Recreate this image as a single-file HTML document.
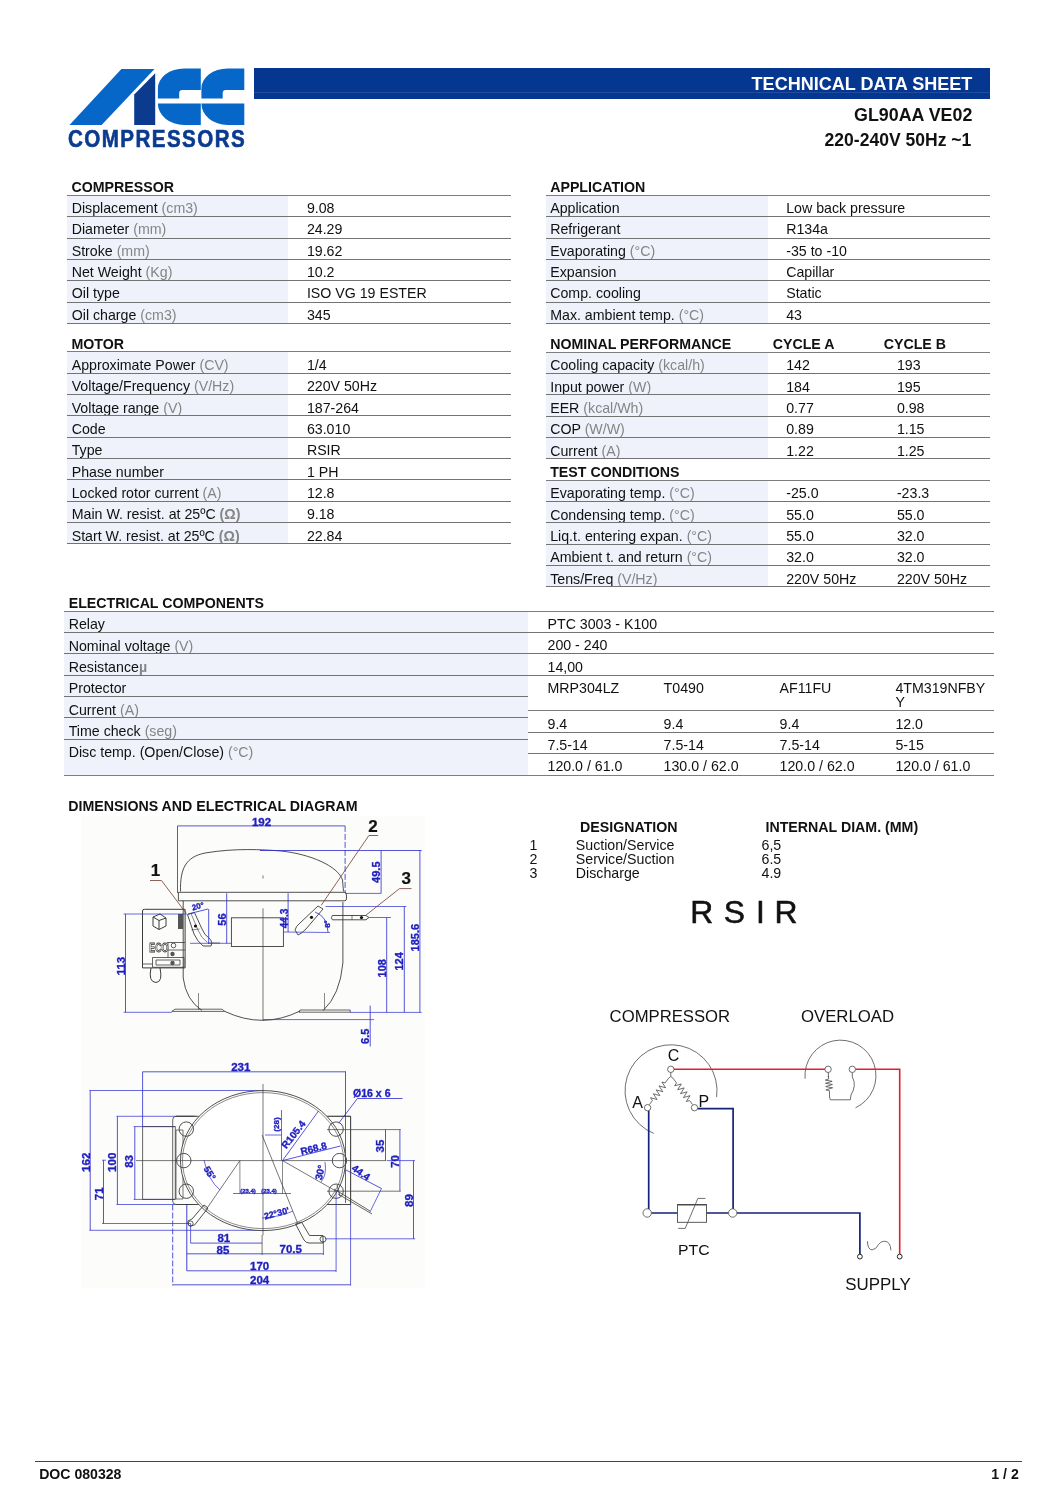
<!DOCTYPE html>
<html><head><meta charset="utf-8">
<style>
html,body{margin:0;padding:0;background:#fff;}
body{will-change:transform;width:1058px;height:1497px;position:relative;overflow:hidden;font-family:"Liberation Sans",sans-serif;color:#111;}
.r,.b{position:absolute;white-space:nowrap;line-height:1;}
.b{font-weight:bold;}
.g{color:#858585;}
.bx{position:absolute;}
svg{position:absolute;}
</style></head><body>
<!--LOGO-->
<svg style="left:0;top:0" width="260" height="160" viewBox="0 0 260 160"><path d="M121.4,69.1 L154.5,69.1 L101.6,124.9 L69.5,124.9 Z" fill="#0767c9"/><path d="M155.2,73.3 L155.2,125 L134.2,125 L134.2,94.6 Z" fill="#0a3b8e"/><path d="M184.0,68.5 L200.8,68.5 L200.8,90.1 L182.2,90.1 Q179.2,90.1 179.2,93.1 L179.2,98.6 L157.9,98.6 L157.9,88.5 A26.1,20 0 0 1 184.0,68.5 Z M157.9,103.4 L200.8,103.4 L200.8,125 L184.0,125 A26.1,21.6 0 0 1 157.9,103.4 Z" fill="#0767c9"/><path d="M227.5,68.5 L244.3,68.5 L244.3,90.1 L225.7,90.1 Q222.7,90.1 222.7,93.1 L222.7,98.6 L201.4,98.6 L201.4,88.5 A26.1,20 0 0 1 227.5,68.5 Z M201.4,103.4 L244.3,103.4 L244.3,125 L227.5,125 A26.1,21.6 0 0 1 201.4,103.4 Z" fill="#0767c9"/></svg>
<div class="b" style="left:68.0px;top:128.09px;font-size:23.4px;color:#0a3b8e;-webkit-text-stroke:0.6px #0a3b8e;letter-spacing:1.62px;transform:scaleX(0.88);transform-origin:0 0">COMPRESSORS</div>
<div class="bx" style="left:253.6px;top:67.80px;width:736.4px;height:30.90px;background:#063790;"></div>
<div class="bx" style="left:253.6px;top:92.00px;width:736.4px;height:1.00px;background:#1f4c9e;"></div>
<div class="b" style="left:751.6px;top:74.72px;font-size:18.05px;color:#fff">TECHNICAL DATA SHEET</div>
<div class="b" style="left:854.0px;top:106.89px;font-size:17.85px;">GL90AA VE02</div>
<div class="b" style="left:824.6px;top:132.34px;font-size:17.55px;">220-240V 50Hz ~1</div>
<div class="b" style="left:71.5px;top:179.78px;font-size:14.2px;">COMPRESSOR</div>
<div class="bx" style="left:67.4px;top:195.50px;width:220.9px;height:127.98px;background:#eff2fb;"></div>
<div class="bx" style="left:67.4px;top:195.00px;width:443.6px;height:1.00px;background:#7d7d7d;"></div>
<div class="r" style="left:71.7px;top:200.88px;font-size:14.2px;">Displacement <span class="g">(cm3)</span></div>
<div class="r" style="left:306.9px;top:200.88px;font-size:14.2px;">9.08</div>
<div class="bx" style="left:67.4px;top:216.00px;width:443.6px;height:1.00px;background:#737373;"></div>
<div class="r" style="left:71.7px;top:222.21px;font-size:14.2px;">Diameter <span class="g">(mm)</span></div>
<div class="r" style="left:306.9px;top:222.21px;font-size:14.2px;">24.29</div>
<div class="bx" style="left:67.4px;top:238.00px;width:443.6px;height:1.00px;background:#737373;"></div>
<div class="r" style="left:71.7px;top:243.54px;font-size:14.2px;">Stroke <span class="g">(mm)</span></div>
<div class="r" style="left:306.9px;top:243.54px;font-size:14.2px;">19.62</div>
<div class="bx" style="left:67.4px;top:259.00px;width:443.6px;height:1.00px;background:#737373;"></div>
<div class="r" style="left:71.7px;top:264.87px;font-size:14.2px;">Net Weight <span class="g">(Kg)</span></div>
<div class="r" style="left:306.9px;top:264.87px;font-size:14.2px;">10.2</div>
<div class="bx" style="left:67.4px;top:280.00px;width:443.6px;height:1.00px;background:#737373;"></div>
<div class="r" style="left:71.7px;top:286.20px;font-size:14.2px;">Oil type</div>
<div class="r" style="left:306.9px;top:286.20px;font-size:14.2px;">ISO VG 19 ESTER</div>
<div class="bx" style="left:67.4px;top:302.00px;width:443.6px;height:1.00px;background:#737373;"></div>
<div class="r" style="left:71.7px;top:307.53px;font-size:14.2px;">Oil charge <span class="g">(cm3)</span></div>
<div class="r" style="left:306.9px;top:307.53px;font-size:14.2px;">345</div>
<div class="bx" style="left:67.4px;top:323.00px;width:443.6px;height:1.00px;background:#737373;"></div>
<div class="b" style="left:71.5px;top:336.68px;font-size:14.2px;">MOTOR</div>
<div class="bx" style="left:67.4px;top:351.80px;width:220.9px;height:191.97px;background:#eff2fb;"></div>
<div class="bx" style="left:67.4px;top:351.00px;width:443.6px;height:1.00px;background:#7d7d7d;"></div>
<div class="r" style="left:71.7px;top:357.98px;font-size:14.2px;">Approximate Power <span class="g">(CV)</span></div>
<div class="r" style="left:306.9px;top:357.98px;font-size:14.2px;">1/4</div>
<div class="bx" style="left:67.4px;top:373.00px;width:443.6px;height:1.00px;background:#737373;"></div>
<div class="r" style="left:71.7px;top:379.31px;font-size:14.2px;">Voltage/Frequency <span class="g">(V/Hz)</span></div>
<div class="r" style="left:306.9px;top:379.31px;font-size:14.2px;">220V 50Hz</div>
<div class="bx" style="left:67.4px;top:394.00px;width:443.6px;height:1.00px;background:#737373;"></div>
<div class="r" style="left:71.7px;top:400.64px;font-size:14.2px;">Voltage range <span class="g">(V)</span></div>
<div class="r" style="left:306.9px;top:400.64px;font-size:14.2px;">187-264</div>
<div class="bx" style="left:67.4px;top:415.00px;width:443.6px;height:1.00px;background:#737373;"></div>
<div class="r" style="left:71.7px;top:421.97px;font-size:14.2px;">Code</div>
<div class="r" style="left:306.9px;top:421.97px;font-size:14.2px;">63.010</div>
<div class="bx" style="left:67.4px;top:437.00px;width:443.6px;height:1.00px;background:#737373;"></div>
<div class="r" style="left:71.7px;top:443.30px;font-size:14.2px;">Type</div>
<div class="r" style="left:306.9px;top:443.30px;font-size:14.2px;">RSIR</div>
<div class="bx" style="left:67.4px;top:458.00px;width:443.6px;height:1.00px;background:#737373;"></div>
<div class="r" style="left:71.7px;top:464.63px;font-size:14.2px;">Phase number</div>
<div class="r" style="left:306.9px;top:464.63px;font-size:14.2px;">1 PH</div>
<div class="bx" style="left:67.4px;top:479.00px;width:443.6px;height:1.00px;background:#737373;"></div>
<div class="r" style="left:71.7px;top:485.96px;font-size:14.2px;">Locked rotor current <span class="g">(A)</span></div>
<div class="r" style="left:306.9px;top:485.96px;font-size:14.2px;">12.8</div>
<div class="bx" style="left:67.4px;top:501.00px;width:443.6px;height:1.00px;background:#737373;"></div>
<div class="r" style="left:71.7px;top:507.29px;font-size:14.2px;">Main W. resist. at 25ºC <span class="g"><b>(&Omega;)</b></span></div>
<div class="r" style="left:306.9px;top:507.29px;font-size:14.2px;">9.18</div>
<div class="bx" style="left:67.4px;top:522.00px;width:443.6px;height:1.00px;background:#737373;"></div>
<div class="r" style="left:71.7px;top:528.62px;font-size:14.2px;">Start W. resist. at 25ºC <span class="g"><b>(&Omega;)</b></span></div>
<div class="r" style="left:306.9px;top:528.62px;font-size:14.2px;">22.84</div>
<div class="bx" style="left:67.4px;top:543.00px;width:443.6px;height:1.00px;background:#737373;"></div>
<div class="b" style="left:550.2px;top:179.78px;font-size:14.2px;">APPLICATION</div>
<div class="bx" style="left:545.8px;top:195.50px;width:222.1px;height:127.98px;background:#eff2fb;"></div>
<div class="bx" style="left:545.8px;top:195.00px;width:444.2px;height:1.00px;background:#7d7d7d;"></div>
<div class="r" style="left:550.2px;top:200.88px;font-size:14.2px;">Application</div>
<div class="r" style="left:786.2px;top:200.88px;font-size:14.2px;">Low back pressure</div>
<div class="bx" style="left:545.8px;top:216.00px;width:444.2px;height:1.00px;background:#737373;"></div>
<div class="r" style="left:550.2px;top:222.21px;font-size:14.2px;">Refrigerant</div>
<div class="r" style="left:786.2px;top:222.21px;font-size:14.2px;">R134a</div>
<div class="bx" style="left:545.8px;top:238.00px;width:444.2px;height:1.00px;background:#737373;"></div>
<div class="r" style="left:550.2px;top:243.54px;font-size:14.2px;">Evaporating <span class="g">(°C)</span></div>
<div class="r" style="left:786.2px;top:243.54px;font-size:14.2px;">-35 to -10</div>
<div class="bx" style="left:545.8px;top:259.00px;width:444.2px;height:1.00px;background:#737373;"></div>
<div class="r" style="left:550.2px;top:264.87px;font-size:14.2px;">Expansion</div>
<div class="r" style="left:786.2px;top:264.87px;font-size:14.2px;">Capillar</div>
<div class="bx" style="left:545.8px;top:280.00px;width:444.2px;height:1.00px;background:#737373;"></div>
<div class="r" style="left:550.2px;top:286.20px;font-size:14.2px;">Comp. cooling</div>
<div class="r" style="left:786.2px;top:286.20px;font-size:14.2px;">Static</div>
<div class="bx" style="left:545.8px;top:302.00px;width:444.2px;height:1.00px;background:#737373;"></div>
<div class="r" style="left:550.2px;top:307.53px;font-size:14.2px;">Max. ambient temp. <span class="g">(°C)</span></div>
<div class="r" style="left:786.2px;top:307.53px;font-size:14.2px;">43</div>
<div class="bx" style="left:545.8px;top:323.00px;width:444.2px;height:1.00px;background:#737373;"></div>
<div class="b" style="left:550.2px;top:337.08px;font-size:14.2px;">NOMINAL PERFORMANCE</div>
<div class="b" style="left:772.7px;top:337.08px;font-size:14.2px;">CYCLE A</div>
<div class="b" style="left:883.7px;top:337.08px;font-size:14.2px;">CYCLE B</div>
<div class="bx" style="left:545.8px;top:352.00px;width:444.2px;height:1.00px;background:#7d7d7d;"></div>
<div class="bx" style="left:545.8px;top:352.10px;width:222.1px;height:106.65px;background:#eff2fb;"></div>
<div class="bx" style="left:545.8px;top:480.08px;width:222.1px;height:106.65px;background:#eff2fb;"></div>
<div class="bx" style="left:545.8px;top:352.00px;width:444.2px;height:1.00px;background:#7d7d7d;"></div>
<div class="r" style="left:550.2px;top:358.28px;font-size:14.2px;">Cooling capacity <span class="g">(kcal/h)</span></div>
<div class="r" style="left:786.2px;top:358.28px;font-size:14.2px;">142</div>
<div class="r" style="left:896.9px;top:358.28px;font-size:14.2px;">193</div>
<div class="bx" style="left:545.8px;top:373.00px;width:444.2px;height:1.00px;background:#737373;"></div>
<div class="r" style="left:550.2px;top:379.61px;font-size:14.2px;">Input power <span class="g">(W)</span></div>
<div class="r" style="left:786.2px;top:379.61px;font-size:14.2px;">184</div>
<div class="r" style="left:896.9px;top:379.61px;font-size:14.2px;">195</div>
<div class="bx" style="left:545.8px;top:394.00px;width:444.2px;height:1.00px;background:#737373;"></div>
<div class="r" style="left:550.2px;top:400.94px;font-size:14.2px;">EER <span class="g">(kcal/Wh)</span></div>
<div class="r" style="left:786.2px;top:400.94px;font-size:14.2px;">0.77</div>
<div class="r" style="left:896.9px;top:400.94px;font-size:14.2px;">0.98</div>
<div class="bx" style="left:545.8px;top:416.00px;width:444.2px;height:1.00px;background:#737373;"></div>
<div class="r" style="left:550.2px;top:422.27px;font-size:14.2px;">COP <span class="g">(W/W)</span></div>
<div class="r" style="left:786.2px;top:422.27px;font-size:14.2px;">0.89</div>
<div class="r" style="left:896.9px;top:422.27px;font-size:14.2px;">1.15</div>
<div class="bx" style="left:545.8px;top:437.00px;width:444.2px;height:1.00px;background:#737373;"></div>
<div class="r" style="left:550.2px;top:443.60px;font-size:14.2px;">Current <span class="g">(A)</span></div>
<div class="r" style="left:786.2px;top:443.60px;font-size:14.2px;">1.22</div>
<div class="r" style="left:896.9px;top:443.60px;font-size:14.2px;">1.25</div>
<div class="bx" style="left:545.8px;top:458.00px;width:444.2px;height:1.00px;background:#737373;"></div>
<div class="b" style="left:550.2px;top:464.93px;font-size:14.2px;">TEST CONDITIONS</div>
<div class="bx" style="left:545.8px;top:480.00px;width:444.2px;height:1.00px;background:#7d7d7d;"></div>
<div class="r" style="left:550.2px;top:486.26px;font-size:14.2px;">Evaporating temp. <span class="g">(°C)</span></div>
<div class="r" style="left:786.2px;top:486.26px;font-size:14.2px;">-25.0</div>
<div class="r" style="left:896.9px;top:486.26px;font-size:14.2px;">-23.3</div>
<div class="bx" style="left:545.8px;top:501.00px;width:444.2px;height:1.00px;background:#737373;"></div>
<div class="r" style="left:550.2px;top:507.59px;font-size:14.2px;">Condensing temp. <span class="g">(°C)</span></div>
<div class="r" style="left:786.2px;top:507.59px;font-size:14.2px;">55.0</div>
<div class="r" style="left:896.9px;top:507.59px;font-size:14.2px;">55.0</div>
<div class="bx" style="left:545.8px;top:522.00px;width:444.2px;height:1.00px;background:#737373;"></div>
<div class="r" style="left:550.2px;top:528.92px;font-size:14.2px;">Liq.t. entering expan. <span class="g">(°C)</span></div>
<div class="r" style="left:786.2px;top:528.92px;font-size:14.2px;">55.0</div>
<div class="r" style="left:896.9px;top:528.92px;font-size:14.2px;">32.0</div>
<div class="bx" style="left:545.8px;top:544.00px;width:444.2px;height:1.00px;background:#737373;"></div>
<div class="r" style="left:550.2px;top:550.25px;font-size:14.2px;">Ambient t. and return <span class="g">(°C)</span></div>
<div class="r" style="left:786.2px;top:550.25px;font-size:14.2px;">32.0</div>
<div class="r" style="left:896.9px;top:550.25px;font-size:14.2px;">32.0</div>
<div class="bx" style="left:545.8px;top:565.00px;width:444.2px;height:1.00px;background:#737373;"></div>
<div class="r" style="left:550.2px;top:571.58px;font-size:14.2px;">Tens/Freq <span class="g">(V/Hz)</span></div>
<div class="r" style="left:786.2px;top:571.58px;font-size:14.2px;">220V 50Hz</div>
<div class="r" style="left:896.9px;top:571.58px;font-size:14.2px;">220V 50Hz</div>
<div class="bx" style="left:545.8px;top:586.00px;width:444.2px;height:1.00px;background:#737373;"></div>
<div class="b" style="left:68.7px;top:595.78px;font-size:14.2px;">ELECTRICAL COMPONENTS</div>
<div class="bx" style="left:64.1px;top:611.40px;width:463.9px;height:163.70px;background:#eff2fb;"></div>
<div class="bx" style="left:64.1px;top:611.00px;width:929.5px;height:1.00px;background:#7d7d7d;"></div>
<div class="r" style="left:68.7px;top:616.68px;font-size:14.2px;">Relay</div>
<div class="bx" style="left:64.1px;top:632.00px;width:463.9px;height:1.00px;background:#737373;"></div>
<div class="r" style="left:68.7px;top:638.78px;font-size:14.2px;">Nominal voltage <span class="g">(V)</span></div>
<div class="bx" style="left:64.1px;top:653.00px;width:463.9px;height:1.00px;background:#737373;"></div>
<div class="r" style="left:68.7px;top:659.98px;font-size:14.2px;">Resistance<span class="g"><b>&micro;</b></span></div>
<div class="bx" style="left:64.1px;top:675.00px;width:463.9px;height:1.00px;background:#737373;"></div>
<div class="r" style="left:68.7px;top:680.88px;font-size:14.2px;">Protector</div>
<div class="bx" style="left:64.1px;top:696.00px;width:463.9px;height:1.00px;background:#737373;"></div>
<div class="r" style="left:68.7px;top:702.88px;font-size:14.2px;">Current <span class="g">(A)</span></div>
<div class="bx" style="left:64.1px;top:717.00px;width:463.9px;height:1.00px;background:#737373;"></div>
<div class="r" style="left:68.7px;top:723.78px;font-size:14.2px;">Time check <span class="g">(seg)</span></div>
<div class="bx" style="left:64.1px;top:739.00px;width:463.9px;height:1.00px;background:#737373;"></div>
<div class="r" style="left:68.7px;top:744.58px;font-size:14.2px;">Disc temp. (Open/Close) <span class="g">(°C)</span></div>
<div class="bx" style="left:64.1px;top:775.00px;width:463.9px;height:1.00px;background:#7d7d7d;"></div>
<div class="r" style="left:547.5px;top:616.78px;font-size:14.2px;line-height:1.03">PTC 3003 - K100</div>
<div class="bx" style="left:528.0px;top:632.00px;width:465.6px;height:1.00px;background:#737373;"></div>
<div class="r" style="left:547.5px;top:638.48px;font-size:14.2px;line-height:1.03">200 - 240</div>
<div class="bx" style="left:528.0px;top:653.00px;width:465.6px;height:1.00px;background:#737373;"></div>
<div class="r" style="left:547.5px;top:659.68px;font-size:14.2px;line-height:1.03">14,00</div>
<div class="bx" style="left:528.0px;top:675.00px;width:465.6px;height:1.00px;background:#737373;"></div>
<div class="r" style="left:547.5px;top:680.58px;font-size:14.2px;line-height:1.03">MRP304LZ</div>
<div class="r" style="left:663.6px;top:680.58px;font-size:14.2px;line-height:1.03">T0490</div>
<div class="r" style="left:779.6px;top:680.58px;font-size:14.2px;line-height:1.03">AF11FU</div>
<div class="r" style="left:895.4px;top:680.58px;font-size:14.2px;line-height:1.03">4TM319NFBY<br>Y</div>
<div class="bx" style="left:528.0px;top:710.00px;width:465.6px;height:1.00px;background:#7d7d7d;"></div>
<div class="r" style="left:547.5px;top:716.58px;font-size:14.2px;line-height:1.03">9.4</div>
<div class="r" style="left:663.6px;top:716.58px;font-size:14.2px;line-height:1.03">9.4</div>
<div class="r" style="left:779.6px;top:716.58px;font-size:14.2px;line-height:1.03">9.4</div>
<div class="r" style="left:895.4px;top:716.58px;font-size:14.2px;line-height:1.03">12.0</div>
<div class="bx" style="left:528.0px;top:732.00px;width:465.6px;height:1.00px;background:#737373;"></div>
<div class="r" style="left:547.5px;top:737.78px;font-size:14.2px;line-height:1.03">7.5-14</div>
<div class="r" style="left:663.6px;top:737.78px;font-size:14.2px;line-height:1.03">7.5-14</div>
<div class="r" style="left:779.6px;top:737.78px;font-size:14.2px;line-height:1.03">7.5-14</div>
<div class="r" style="left:895.4px;top:737.78px;font-size:14.2px;line-height:1.03">5-15</div>
<div class="bx" style="left:528.0px;top:753.00px;width:465.6px;height:1.00px;background:#737373;"></div>
<div class="r" style="left:547.5px;top:759.38px;font-size:14.2px;line-height:1.03">120.0 / 61.0</div>
<div class="r" style="left:663.6px;top:759.38px;font-size:14.2px;line-height:1.03">130.0 / 62.0</div>
<div class="r" style="left:779.6px;top:759.38px;font-size:14.2px;line-height:1.03">120.0 / 62.0</div>
<div class="r" style="left:895.4px;top:759.38px;font-size:14.2px;line-height:1.03">120.0 / 61.0</div>
<div class="bx" style="left:528.0px;top:775.00px;width:465.6px;height:1.00px;background:#7d7d7d;"></div>
<div class="b" style="left:68.3px;top:799.28px;font-size:14.2px;">DIMENSIONS AND ELECTRICAL DIAGRAM</div>
<div class="b" style="left:580.1px;top:819.58px;font-size:14.2px;">DESIGNATION</div>
<div class="b" style="left:765.5px;top:819.58px;font-size:14.2px;">INTERNAL DIAM. (MM)</div>
<div class="r" style="left:529.5px;top:837.88px;font-size:14.2px;">1</div>
<div class="r" style="left:575.8px;top:837.88px;font-size:14.2px;">Suction/Service</div>
<div class="r" style="left:761.5px;top:837.88px;font-size:14.2px;">6,5</div>
<div class="r" style="left:529.5px;top:851.93px;font-size:14.2px;">2</div>
<div class="r" style="left:575.8px;top:851.93px;font-size:14.2px;">Service/Suction</div>
<div class="r" style="left:761.5px;top:851.93px;font-size:14.2px;">6.5</div>
<div class="r" style="left:529.5px;top:865.98px;font-size:14.2px;">3</div>
<div class="r" style="left:575.8px;top:865.98px;font-size:14.2px;">Discharge</div>
<div class="r" style="left:761.5px;top:865.98px;font-size:14.2px;">4.9</div>
<svg style="left:0;top:0" width="1058" height="1497" viewBox="0 0 1058 1497"><rect x="81" y="816" width="344" height="472" fill="#fcfdfa"/><path d="M177.5,825.9 L345.1,825.9" fill="none" stroke="#2a2ad0" stroke-width="0.8" /><path d="M177.5,825.9 L177.5,893.0" fill="none" stroke="#2a2ad0" stroke-width="0.8" /><path d="M345.1,825.9 L345.1,893.0" fill="none" stroke="#2a2ad0" stroke-width="0.8" stroke-dasharray="6 2"/><text x="261.5" y="822.0" font-size="11.5" fill="#1f1fbf" font-weight="bold" text-anchor="middle" dominant-baseline="central" font-family="Liberation Sans" stroke="#1f1fbf" stroke-width="0.35" >192</text><path d="M180.5,891.5 C180,868 186,857 205,853 C235,848 262,849.5 281,851 C310,854 338,866 342.5,880 L343.5,891.5" fill="none" stroke="#3c3c3c" stroke-width="0.9" /><path d="M178.4,892.3 L345,892.3 M178.4,900.8 L345,900.8 M178.4,892.3 L178.4,900.8 M345,892.3 Q346.5,892.3 346.5,896 L346.5,898 Q346.5,900.8 345,900.8" fill="none" stroke="#3c3c3c" stroke-width="0.9" /><path d="M183.2,900.8 L183.2,978 Q186,1000 202,1010.5" fill="none" stroke="#3c3c3c" stroke-width="0.9" /><path d="M342.9,901.9 L342.9,963 Q340,995 323,1010.7" fill="none" stroke="#3c3c3c" stroke-width="0.9" /><path d="M224.8,1011.4 Q263,1029.4 300,1011" fill="none" stroke="#3c3c3c" stroke-width="0.9" /><path d="M171.8,1011.4 L224.8,1011.4 L222,1009.2 L175,1009.2 Z" fill="none" stroke="#3c3c3c" stroke-width="0.8" /><path d="M299,1012.2 L350.2,1012.2 L350.2,1010 L300,1010 Z" fill="none" stroke="#3c3c3c" stroke-width="0.8" /><path d="M198.5,993 L198.5,1010 M324.5,993 L324.5,1010" fill="none" stroke="#3c3c3c" stroke-width="0.6" /><path d="M263.0,908.4 L263.0,1020.8" fill="none" stroke="#3c3c3c" stroke-width="0.7" /><path d="M263.0,875.5 L263.0,878.5" fill="none" stroke="#3c3c3c" stroke-width="0.7" /><rect x="231.4" y="917.8" width="52" height="28.7" fill="none" stroke="#3c3c3c" stroke-width="0.9"/><path d="M142.5,911 Q142.5,909.3 144.5,909.3 L185.1,909.3 L185.1,967.9 L142.5,967.9 Z" fill="none" stroke="#3c3c3c" stroke-width="1.0" /><path d="M142.5,964 L152.5,964 M152.5,957.5 L184,957.5 L184,967.3 L152.5,967.3 Z M156,960 L180,960 L180,965 L156,965 Z M167,942.5 L185,942.5 M168,950 L185,950 M168,957.5 L168,942.5" fill="none" stroke="#3c3c3c" stroke-width="0.8" /><path d="M151,967.9 Q148,982 156,982.5 Q163,982 160,967.9" fill="none" stroke="#3c3c3c" stroke-width="1.0" /><path d="M153,917 L160,914 L166,918 L166,926 L159,929.5 L153,926 Z M153,917 L159,920.5 L166,918 M159,920.5 L159,929.5" fill="none" stroke="#3c3c3c" stroke-width="1.0" /><rect x="178" y="914" width="5" height="15" fill="#555"/><text x="149.3" y="952.3" font-size="12.5" font-weight="bold" fill="#fff" stroke="#333" stroke-width="0.8" font-family="Liberation Sans" textLength="19" lengthAdjust="spacingAndGlyphs">ECO</text><circle cx="173.5" cy="945.5" r="2.3" fill="#fff" stroke="#333" stroke-width="0.8"/><circle cx="172.5" cy="954" r="2.2" fill="#555"/><circle cx="172.5" cy="963" r="2.2" fill="#555"/><path d="M187.5,914.5 L194.5,912.5 L201.5,928 Q204,935 210.5,939.5 Q213,943 211,946 L203,946 Q197,941 194,934 Z" fill="none" stroke="#3c3c3c" stroke-width="0.9" /><path d="M191,913.5 L198,930 Q201,938 207.5,942.5 M191.5,930 L199.5,929" fill="none" stroke="#3c3c3c" stroke-width="0.6" /><circle cx="195.5" cy="926" r="1.6" fill="#111"/><path d="M208.0,943.0 L220.0,943.0" fill="none" stroke="#3c3c3c" stroke-width="0.7" /><path d="M188.0,914.0 L208.0,909.0" fill="none" stroke="#2a2ad0" stroke-width="0.8" /><path d="M208.7,909.0 L208.7,944.0" fill="none" stroke="#2a2ad0" stroke-width="0.8" /><text x="198.0" y="906.5" font-size="8" fill="#1f1fbf" font-weight="bold" text-anchor="middle" dominant-baseline="central" font-family="Liberation Sans" stroke="#1f1fbf" stroke-width="0.35"  transform="rotate(-15 198.0 906.5)">20°</text><path d="M226.7,893.2 L226.7,943.3" fill="none" stroke="#2a2ad0" stroke-width="0.8" /><path d="M190.0,943.3 L231.0,943.3" fill="none" stroke="#2a2ad0" stroke-width="0.7" /><text x="222.3" y="919.5" font-size="11" fill="#1f1fbf" font-weight="bold" text-anchor="middle" dominant-baseline="central" font-family="Liberation Sans" stroke="#1f1fbf" stroke-width="0.35"  transform="rotate(-90 222.3 919.5)">56</text><path d="M288.1,893.2 L288.1,932.0" fill="none" stroke="#2a2ad0" stroke-width="0.8" /><path d="M284.0,932.0 L330.0,932.5" fill="none" stroke="#2a2ad0" stroke-width="0.7" /><text x="284.3" y="918.5" font-size="10" fill="#1f1fbf" font-weight="bold" text-anchor="middle" dominant-baseline="central" font-family="Liberation Sans" stroke="#1f1fbf" stroke-width="0.35"  transform="rotate(-90 284.3 918.5)">44.3</text><path d="M295,930 Q296,926 300,923 L318,906 L323,909 L306,929 Q301,934 298,935 Z" fill="none" stroke="#3c3c3c" stroke-width="0.9" /><circle cx="311.5" cy="917.3" r="1.6" fill="#111"/><path d="M315,912 Q327,916 328,932" fill="none" stroke="#2a2ad0" stroke-width="0.8" /><text x="327.0" y="924.0" font-size="8" fill="#1f1fbf" font-weight="bold" text-anchor="middle" dominant-baseline="central" font-family="Liberation Sans" stroke="#1f1fbf" stroke-width="0.35"  transform="rotate(-90 327.0 924.0)">8°</text><path d="M332.3,915.5 L366,915.5 L368.9,917.5 L366,919.8 L332.3,919.8 Q330.5,917.7 332.3,915.5 Z" fill="none" stroke="#3c3c3c" stroke-width="0.9" /><circle cx="361.5" cy="917.6" r="1.6" fill="#111"/><path d="M352.0,915.5 L352.0,919.8" fill="none" stroke="#3c3c3c" stroke-width="0.7" /><path d="M260.0,850.5 L421.6,850.5" fill="none" stroke="#2a2ad0" stroke-width="0.8" /><path d="M381.1,850.5 L381.1,893.4" fill="none" stroke="#2a2ad0" stroke-width="0.8" /><path d="M345.1,893.4 L381.1,893.4" fill="none" stroke="#2a2ad0" stroke-width="0.7" /><text x="375.7" y="872.2" font-size="11" fill="#1f1fbf" font-weight="bold" text-anchor="middle" dominant-baseline="central" font-family="Liberation Sans" stroke="#1f1fbf" stroke-width="0.35"  transform="rotate(-90 375.7 872.2)">49.5</text><path d="M419.9,850.5 L419.9,1012.4" fill="none" stroke="#2a2ad0" stroke-width="0.8" /><text x="415.2" y="937.6" font-size="11" fill="#1f1fbf" font-weight="bold" text-anchor="middle" dominant-baseline="central" font-family="Liberation Sans" stroke="#1f1fbf" stroke-width="0.35"  transform="rotate(-90 415.2 937.6)">185.6</text><path d="M325.5,906.5 L406.3,906.5" fill="none" stroke="#2a2ad0" stroke-width="0.7" /><path d="M404.3,906.5 L404.3,1012.4" fill="none" stroke="#2a2ad0" stroke-width="0.8" /><text x="398.7" y="961.4" font-size="11" fill="#1f1fbf" font-weight="bold" text-anchor="middle" dominant-baseline="central" font-family="Liberation Sans" stroke="#1f1fbf" stroke-width="0.35"  transform="rotate(-90 398.7 961.4)">124</text><path d="M368.9,917.5 L391.0,917.5" fill="none" stroke="#2a2ad0" stroke-width="0.7" /><path d="M386.7,917.5 L386.7,1012.4" fill="none" stroke="#2a2ad0" stroke-width="0.8" /><text x="382.1" y="968.2" font-size="11" fill="#1f1fbf" font-weight="bold" text-anchor="middle" dominant-baseline="central" font-family="Liberation Sans" stroke="#1f1fbf" stroke-width="0.35"  transform="rotate(-90 382.1 968.2)">108</text><path d="M350.0,1012.4 L421.6,1012.4" fill="none" stroke="#2a2ad0" stroke-width="0.7" /><path d="M123.6,914.0 L187.0,914.0" fill="none" stroke="#2a2ad0" stroke-width="0.7" /><path d="M125.5,914.0 L125.5,1012.3" fill="none" stroke="#2a2ad0" stroke-width="0.8" /><path d="M123.6,1012.3 L171.8,1012.3" fill="none" stroke="#2a2ad0" stroke-width="0.7" /><text x="121.2" y="966.0" font-size="11.5" fill="#1f1fbf" font-weight="bold" text-anchor="middle" dominant-baseline="central" font-family="Liberation Sans" stroke="#1f1fbf" stroke-width="0.35"  transform="rotate(-90 121.2 966.0)">113</text><path d="M263.0,1019.6 L374.0,1019.6" fill="none" stroke="#2a2ad0" stroke-width="0.7" /><path d="M370.2,1005.6 L370.2,1046.5" fill="none" stroke="#2a2ad0" stroke-width="0.8" /><text x="364.6" y="1036.3" font-size="11" fill="#1f1fbf" font-weight="bold" text-anchor="middle" dominant-baseline="central" font-family="Liberation Sans" stroke="#1f1fbf" stroke-width="0.35"  transform="rotate(-90 364.6 1036.3)">6.5</text><text x="155.5" y="870.5" font-size="17" fill="#111" font-weight="bold" text-anchor="middle" dominant-baseline="central" font-family="Liberation Sans" stroke="#111" stroke-width="0.2" >1</text><text x="373.1" y="826.2" font-size="17" fill="#111" font-weight="bold" text-anchor="middle" dominant-baseline="central" font-family="Liberation Sans" stroke="#111" stroke-width="0.2" >2</text><text x="406.3" y="878.0" font-size="17" fill="#111" font-weight="bold" text-anchor="middle" dominant-baseline="central" font-family="Liberation Sans" stroke="#111" stroke-width="0.2" >3</text><path d="M150.0,880.5 L161.5,880.5 L186.0,913.0" fill="none" stroke="#6e3b2e" stroke-width="0.8" /><path d="M378.2,835.5 L368.9,835.5 L321.2,905.3" fill="none" stroke="#6e3b2e" stroke-width="0.8" /><path d="M411.5,888.6 L399.5,888.6 L365.5,915.5" fill="none" stroke="#6e3b2e" stroke-width="0.8" /><path d="M142.6,1071.8 L345.5,1071.8" fill="none" stroke="#2a2ad0" stroke-width="0.8" /><path d="M142.6,1071.8 L142.6,1126.6" fill="none" stroke="#2a2ad0" stroke-width="0.8" /><path d="M345.5,1071.3 L345.5,1203.0" fill="none" stroke="#2a2ad0" stroke-width="0.8" /><text x="240.8" y="1067.0" font-size="11.5" fill="#1f1fbf" font-weight="bold" text-anchor="middle" dominant-baseline="central" font-family="Liberation Sans" stroke="#1f1fbf" stroke-width="0.35" >231</text><path d="M89.4,1090.5 L263.0,1090.5" fill="none" stroke="#2a2ad0" stroke-width="0.7" /><path d="M90.2,1090.5 L90.2,1230.3" fill="none" stroke="#2a2ad0" stroke-width="0.8" /><path d="M89.4,1230.3 L263.0,1230.3" fill="none" stroke="#2a2ad0" stroke-width="0.7" /><text x="86.0" y="1162.3" font-size="11.5" fill="#1f1fbf" font-weight="bold" text-anchor="middle" dominant-baseline="central" font-family="Liberation Sans" stroke="#1f1fbf" stroke-width="0.35"  transform="rotate(-90 86.0 1162.3)">162</text><path d="M116.5,1116.3 L194.0,1116.3" fill="none" stroke="#2a2ad0" stroke-width="0.7" /><path d="M116.5,1204.5 L194.0,1204.5" fill="none" stroke="#2a2ad0" stroke-width="0.7" /><path d="M117.4,1116.3 L117.4,1204.5" fill="none" stroke="#2a2ad0" stroke-width="0.8" /><text x="112.3" y="1162.3" font-size="11.5" fill="#1f1fbf" font-weight="bold" text-anchor="middle" dominant-baseline="central" font-family="Liberation Sans" stroke="#1f1fbf" stroke-width="0.35"  transform="rotate(-90 112.3 1162.3)">100</text><path d="M133.6,1126.6 L175.3,1126.6" fill="none" stroke="#2a2ad0" stroke-width="0.7" /><path d="M133.6,1199.4 L175.3,1199.4" fill="none" stroke="#2a2ad0" stroke-width="0.7" /><path d="M134.8,1126.6 L134.8,1199.4" fill="none" stroke="#2a2ad0" stroke-width="0.8" /><text x="129.3" y="1161.4" font-size="11.5" fill="#1f1fbf" font-weight="bold" text-anchor="middle" dominant-baseline="central" font-family="Liberation Sans" stroke="#1f1fbf" stroke-width="0.35"  transform="rotate(-90 129.3 1161.4)">83</text><path d="M102.0,1160.2 L106.0,1160.2" fill="none" stroke="#2a2ad0" stroke-width="0.7" /><path d="M103.5,1160.2 L103.5,1223.5" fill="none" stroke="#2a2ad0" stroke-width="0.8" /><path d="M102.0,1223.5 L190.6,1223.5" fill="none" stroke="#2a2ad0" stroke-width="0.7" /><text x="98.7" y="1193.8" font-size="11.5" fill="#1f1fbf" font-weight="bold" text-anchor="middle" dominant-baseline="central" font-family="Liberation Sans" stroke="#1f1fbf" stroke-width="0.35"  transform="rotate(-90 98.7 1193.8)">71</text><path d="M142.6,1126.6 L175.3,1126.6 L175.3,1199.4 L142.6,1199.4 Z" fill="none" stroke="#3c3c3c" stroke-width="0.8" /><path d="M176,1116.3 L350.6,1116.3 L350.6,1204.5 L176,1204.5 Q172.7,1204.5 172.7,1201 L172.7,1120 Q172.7,1116.3 176,1116.3" fill="none" stroke="#3c3c3c" stroke-width="0.8" /><path d="M176,1130 L176,1199 L183,1199 L183,1130 Z" fill="none" stroke="#3c3c3c" stroke-width="0.7" /><ellipse cx="263" cy="1160.6" rx="82.5" ry="70" fill="#fff" stroke="#3c3c3c" stroke-width="0.9"/><ellipse cx="263" cy="1160.6" rx="80.5" ry="68" fill="none" stroke="#3c3c3c" stroke-width="0.6"/><path d="M176,1116.3 L197,1116.3 M327.6,1116.3 L350.6,1116.3 L350.6,1204.5 L327.6,1204.5 M197,1204.5 L176,1204.5" fill="none" stroke="#3c3c3c" stroke-width="0.8" /><circle cx="186.3" cy="1129.1" r="7.2" fill="none" stroke="#3c3c3c" stroke-width="0.9"/><circle cx="183.8" cy="1160.6" r="7.2" fill="none" stroke="#3c3c3c" stroke-width="0.9"/><circle cx="186.3" cy="1191.2" r="7.2" fill="none" stroke="#3c3c3c" stroke-width="0.9"/><circle cx="336.1" cy="1129.1" r="7.2" fill="none" stroke="#3c3c3c" stroke-width="0.9"/><circle cx="339.5" cy="1160.6" r="7.2" fill="none" stroke="#3c3c3c" stroke-width="0.9"/><circle cx="336.1" cy="1191.2" r="7.2" fill="none" stroke="#3c3c3c" stroke-width="0.9"/><path d="M263.0,1084.0 L263.0,1235.4" fill="none" stroke="#3c3c3c" stroke-width="0.7" /><path d="M136.0,1160.6 L386.3,1160.6" fill="none" stroke="#3c3c3c" stroke-width="0.7" /><path d="M327.0,1129.6 L400.8,1129.6" fill="none" stroke="#3c3c3c" stroke-width="0.7" /><path d="M327.0,1191.2 L400.8,1191.2" fill="none" stroke="#3c3c3c" stroke-width="0.7" /><path d="M188,1221 Q187,1226 191,1226 Q195,1226 197,1222 L208,1208 L204,1205 L192,1219 Z" fill="none" stroke="#3c3c3c" stroke-width="0.9" /><circle cx="190.6" cy="1223.5" r="2.5" fill="none" stroke="#3c3c3c" stroke-width="0.8"/><path d="M295.5,1224 L304,1240 Q306,1243 309,1243 L323,1243 L323,1235.5 L309.5,1235.5 L301.5,1222 Z" fill="none" stroke="#3c3c3c" stroke-width="0.9" /><circle cx="323" cy="1239.2" r="3" fill="none" stroke="#3c3c3c" stroke-width="0.8"/><path d="M334,1189 L370,1211 M338,1194 L372,1214 M337,1185 L340,1196" fill="none" stroke="#3c3c3c" stroke-width="0.8" /><path d="M262.1,1135.0 L297.8,1223.5" fill="none" stroke="#3c3c3c" stroke-width="0.7" /><path d="M239.9,1160.6 L205.9,1209.9" fill="none" stroke="#3c3c3c" stroke-width="0.7" /><path d="M239.9,1160.6 L239.9,1194.0" fill="none" stroke="#3c3c3c" stroke-width="0.6" /><path d="M282.5,1160.6 L282.5,1194.0" fill="none" stroke="#3c3c3c" stroke-width="0.6" /><path d="M282.5,1160.6 L336.1,1191.2" fill="none" stroke="#3c3c3c" stroke-width="0.7" /><path d="M387.0,1160.6 L415.0,1160.6" fill="none" stroke="#2a2ad0" stroke-width="0.7" /><path d="M413.5,1160.6 L413.5,1238.8" fill="none" stroke="#2a2ad0" stroke-width="0.8" /><path d="M325.0,1238.8 L415.2,1238.8" fill="none" stroke="#2a2ad0" stroke-width="0.7" /><text x="408.8" y="1200.6" font-size="11.5" fill="#1f1fbf" font-weight="bold" text-anchor="middle" dominant-baseline="central" font-family="Liberation Sans" stroke="#1f1fbf" stroke-width="0.35"  transform="rotate(-90 408.8 1200.6)">89</text><path d="M385.5,1129.6 L385.5,1160.6" fill="none" stroke="#2a2ad0" stroke-width="0.8" /><text x="380.4" y="1146.1" font-size="11.5" fill="#1f1fbf" font-weight="bold" text-anchor="middle" dominant-baseline="central" font-family="Liberation Sans" stroke="#1f1fbf" stroke-width="0.35"  transform="rotate(-90 380.4 1146.1)">35</text><path d="M399.9,1129.6 L399.9,1191.2" fill="none" stroke="#2a2ad0" stroke-width="0.8" /><text x="394.8" y="1161.4" font-size="11.5" fill="#1f1fbf" font-weight="bold" text-anchor="middle" dominant-baseline="central" font-family="Liberation Sans" stroke="#1f1fbf" stroke-width="0.35"  transform="rotate(-90 394.8 1161.4)">70</text><path d="M282.5,1160.6 L318.5,1111.0" fill="none" stroke="#2a2ad0" stroke-width="0.8" /><text x="293.5" y="1134.5" font-size="10" fill="#1f1fbf" font-weight="bold" text-anchor="middle" dominant-baseline="central" font-family="Liberation Sans" stroke="#1f1fbf" stroke-width="0.35"  transform="rotate(-52 293.5 1134.5)">R105.4</text><path d="M282.5,1160.6 L340.5,1146.0" fill="none" stroke="#2a2ad0" stroke-width="0.8" /><text x="313.5" y="1148.5" font-size="10" fill="#1f1fbf" font-weight="bold" text-anchor="middle" dominant-baseline="central" font-family="Liberation Sans" stroke="#1f1fbf" stroke-width="0.35"  transform="rotate(-14 313.5 1148.5)">R68.8</text><path d="M281.5,1110.0 L281.5,1160.6" fill="none" stroke="#2a2ad0" stroke-width="0.7" /><path d="M265.0,1135.0 L281.5,1135.0" fill="none" stroke="#2a2ad0" stroke-width="0.7" /><text x="276.6" y="1124.5" font-size="8" fill="#1f1fbf" font-weight="bold" text-anchor="middle" dominant-baseline="central" font-family="Liberation Sans" stroke="#1f1fbf" stroke-width="0.35"  transform="rotate(-90 276.6 1124.5)">(28)</text><text x="320.0" y="1172.5" font-size="10" fill="#1f1fbf" font-weight="bold" text-anchor="middle" dominant-baseline="central" font-family="Liberation Sans" stroke="#1f1fbf" stroke-width="0.35"  transform="rotate(-78 320.0 1172.5)">30°</text><path d="M346.0,1170.0 L381.5,1188.5" fill="none" stroke="#2a2ad0" stroke-width="0.8" /><path d="M381.5,1188.5 L370.0,1212.0" fill="none" stroke="#2a2ad0" stroke-width="0.7" /><text x="361.0" y="1172.5" font-size="10" fill="#1f1fbf" font-weight="bold" text-anchor="middle" dominant-baseline="central" font-family="Liberation Sans" stroke="#1f1fbf" stroke-width="0.35"  transform="rotate(35 361.0 1172.5)">44.4</text><path d="M325,1162 Q327,1175 321,1182" fill="none" stroke="#2a2ad0" stroke-width="0.7" /><path d="M204,1160 Q208,1180 220,1190" fill="none" stroke="#2a2ad0" stroke-width="0.7" /><text x="210.0" y="1173.0" font-size="9.5" fill="#1f1fbf" font-weight="bold" text-anchor="middle" dominant-baseline="central" font-family="Liberation Sans" stroke="#1f1fbf" stroke-width="0.35"  transform="rotate(58 210.0 1173.0)">55°</text><path d="M262,1218 Q280,1217 293,1211" fill="none" stroke="#2a2ad0" stroke-width="0.7" /><text x="276.6" y="1213.3" font-size="9" fill="#1f1fbf" font-weight="bold" text-anchor="middle" dominant-baseline="central" font-family="Liberation Sans" stroke="#1f1fbf" stroke-width="0.35"  transform="rotate(-15 276.6 1213.3)">22°30'</text><path d="M233.0,1193.5 L291.0,1193.5" fill="none" stroke="#2a2ad0" stroke-width="0.7" /><text x="248.0" y="1190.5" font-size="6" fill="#1f1fbf" font-weight="bold" text-anchor="middle" dominant-baseline="central" font-family="Liberation Sans" stroke="#1f1fbf" stroke-width="0.35" >(23.4)</text><text x="269.0" y="1190.5" font-size="6" fill="#1f1fbf" font-weight="bold" text-anchor="middle" dominant-baseline="central" font-family="Liberation Sans" stroke="#1f1fbf" stroke-width="0.35" >(23.4)</text><text x="371.8" y="1093.4" font-size="10.5" fill="#1f1fbf" font-weight="bold" text-anchor="middle" dominant-baseline="central" font-family="Liberation Sans" stroke="#1f1fbf" stroke-width="0.35" >Ø16 x 6</text><path d="M402.5,1098.5 L357.4,1098.5 L338.7,1123.2" fill="none" stroke="#2a2ad0" stroke-width="0.8" /><path d="M190.6,1223.5 L190.6,1243.1" fill="none" stroke="#2a2ad0" stroke-width="0.7" /><path d="M190.6,1243.1 L262.1,1243.1" fill="none" stroke="#2a2ad0" stroke-width="0.8" /><text x="223.8" y="1238.0" font-size="11.5" fill="#1f1fbf" font-weight="bold" text-anchor="middle" dominant-baseline="central" font-family="Liberation Sans" stroke="#1f1fbf" stroke-width="0.35" >81</text><path d="M186.8,1204.5 L186.8,1270.8" fill="none" stroke="#2a2ad0" stroke-width="0.9" /><path d="M186.8,1253.8 L323.4,1253.8" fill="none" stroke="#2a2ad0" stroke-width="0.8" /><path d="M262.1,1235.0 L262.1,1255.0" fill="none" stroke="#3c3c3c" stroke-width="0.7" /><path d="M323.4,1241.0 L323.4,1255.0" fill="none" stroke="#2a2ad0" stroke-width="0.7" /><text x="222.9" y="1249.9" font-size="11.5" fill="#1f1fbf" font-weight="bold" text-anchor="middle" dominant-baseline="central" font-family="Liberation Sans" stroke="#1f1fbf" stroke-width="0.35" >85</text><text x="290.7" y="1249.4" font-size="11.5" fill="#1f1fbf" font-weight="bold" text-anchor="middle" dominant-baseline="central" font-family="Liberation Sans" stroke="#1f1fbf" stroke-width="0.35" >70.5</text><path d="M186.8,1270.8 L336.1,1270.8" fill="none" stroke="#2a2ad0" stroke-width="0.8" /><path d="M336.1,1191.2 L336.1,1272.0" fill="none" stroke="#2a2ad0" stroke-width="0.7" /><text x="259.6" y="1266.0" font-size="11.5" fill="#1f1fbf" font-weight="bold" text-anchor="middle" dominant-baseline="central" font-family="Liberation Sans" stroke="#1f1fbf" stroke-width="0.35" >170</text><path d="M172.7,1204.5 L172.7,1285.5" fill="none" stroke="#2a2ad0" stroke-width="0.8" stroke-dasharray="6 2"/><path d="M172.7,1284.8 L350.6,1284.8" fill="none" stroke="#2a2ad0" stroke-width="0.8" /><path d="M350.6,1204.5 L350.6,1285.5" fill="none" stroke="#2a2ad0" stroke-width="0.7" /><text x="259.6" y="1279.7" font-size="11.5" fill="#1f1fbf" font-weight="bold" text-anchor="middle" dominant-baseline="central" font-family="Liberation Sans" stroke="#1f1fbf" stroke-width="0.35" >204</text></svg>
<svg style="left:0;top:0" width="1058" height="1497" viewBox="0 0 1058 1497"><path d="M716.6,1097.1 A46,46 0 1 0 653.8,1133.4" fill="none" stroke="#4a4a4a" stroke-width="0.8"/><path d="M805.1,1078.7 A35.5,35.5 0 1 1 855.5,1107.8" fill="none" stroke="#4a4a4a" stroke-width="0.8"/><path d="M673.8,1069.3 L825.1,1069.3" fill="none" stroke="#e0202c" stroke-width="1.6"/><path d="M855.3,1069.3 L899.7,1069.3 L899.7,1253.9" fill="none" stroke="#e0202c" stroke-width="1.6"/><path d="M648.7,1110.7 L648.7,1209" fill="none" stroke="#16227a" stroke-width="1.7"/><path d="M697.5,1108.6 L733.1,1108.6 L733.1,1209" fill="none" stroke="#16227a" stroke-width="1.7"/><path d="M651.4,1213 L677.5,1213 M706.5,1213 L728.5,1213 M736.9,1213 L859.9,1213 L859.9,1254.3" fill="none" stroke="#16227a" stroke-width="1.7"/><circle cx="670.8" cy="1069.3" r="3.2" fill="#fff" stroke="#4a4a4a" stroke-width="0.8"/><circle cx="647.6" cy="1107.7" r="3.2" fill="#fff" stroke="#4a4a4a" stroke-width="0.8"/><circle cx="694.5" cy="1107.7" r="3.2" fill="#fff" stroke="#4a4a4a" stroke-width="0.8"/><circle cx="828.1" cy="1069.3" r="3.2" fill="#fff" stroke="#4a4a4a" stroke-width="0.8"/><circle cx="852.3" cy="1069.3" r="3.2" fill="#fff" stroke="#4a4a4a" stroke-width="0.8"/><circle cx="647.2" cy="1213" r="4.2" fill="#fff" stroke="#4a4a4a" stroke-width="0.8"/><circle cx="732.7" cy="1213" r="4.2" fill="#fff" stroke="#4a4a4a" stroke-width="0.8"/><circle cx="859.9" cy="1256.6" r="2.4" fill="#fff" stroke="#222" stroke-width="1"/><circle cx="899.7" cy="1256.6" r="2.4" fill="#fff" stroke="#222" stroke-width="1"/><path d="M670.8,1072.5 L670.8,1076.5 L668.6,1078.2" fill="none" stroke="#4a4a4a" stroke-width="0.8"/><path d="M668.6,1078.2 L665.2,1082.9 L661.9,1082.0 L665.6,1087.8 L659.0,1085.9 L662.8,1091.7 L656.2,1089.9 L659.9,1095.6 L653.3,1093.8 L657.1,1099.5 L650.5,1097.7 L652.4,1100.6 L649.5,1104.5" fill="none" stroke="#4a4a4a" stroke-width="0.8"/><path d="M670.8,1076.5 L673,1078.2" fill="none" stroke="#4a4a4a" stroke-width="0.8"/><path d="M673.0,1078.2 L676.5,1082.9 L674.7,1085.8 L681.3,1084.0 L677.6,1089.7 L684.2,1087.9 L680.5,1093.7 L687.1,1091.8 L683.4,1097.6 L690.0,1095.7 L686.3,1101.5 L689.6,1100.6 L692.5,1104.5" fill="none" stroke="#4a4a4a" stroke-width="0.8"/><path d="M828.4,1072.5 L828.4,1077 828.4,1076.0 L828.6,1079.1 L825.3,1080.1 L832.1,1081.3 L825.5,1083.3 L832.4,1084.5 L825.7,1086.6 L832.6,1087.8 L825.9,1089.9 L829.3,1090.5 L829.5,1093.0 L829.5,1097 L830.3,1099.8 L850.3,1099.8 L851,1095 Q857,1085 852.3,1077 L852.3,1072.5" fill="none" stroke="#4a4a4a" stroke-width="0.8"/><rect x="677.5" y="1204.5" width="29" height="17.8" fill="none" stroke="#4a4a4a" stroke-width="0.9"/><path d="M677.5,1204.8 L706.5,1204.8" stroke="#4a4a4a" stroke-width="1.4"/><path d="M678.2,1228.4 L685.2,1228.4 L697.9,1198.4 L705.4,1198.4" fill="none" stroke="#4a4a4a" stroke-width="0.8"/><path d="M867.4,1241.2 Q867.8,1250 872.2,1249.8 Q876,1249.5 878.5,1244.5 Q881,1241 884.6,1241.2 Q890.5,1241.5 890.9,1250.3" fill="none" stroke="#4a4a4a" stroke-width="0.8"/></svg>
<div class="r" style="left:609.6px;top:1008.56px;font-size:16.7px;">COMPRESSOR</div>
<div class="r" style="left:800.9px;top:1009.18px;font-size:16.8px;">OVERLOAD</div>
<div class="r" style="left:678.0px;top:1242.59px;font-size:14.9px;transform:scaleX(1.06);transform-origin:0 0">PTC</div>
<div class="r" style="left:845.3px;top:1276.79px;font-size:16.9px;">SUPPLY</div>
<div class="r" style="left:667.8px;top:1048.46px;font-size:16.0px;">C</div>
<div class="r" style="left:632.3px;top:1094.66px;font-size:16.0px;">A</div>
<div class="r" style="left:698.5px;top:1093.86px;font-size:16.0px;">P</div>
<div class="r" style="left:690.2px;top:896.68px;font-size:31.8px;-webkit-text-stroke:0.55px #111">R</div>
<div class="r" style="left:723.8px;top:896.68px;font-size:31.8px;-webkit-text-stroke:0.55px #111">S</div>
<div class="r" style="left:756.0px;top:896.68px;font-size:31.8px;-webkit-text-stroke:0.55px #111">I</div>
<div class="r" style="left:774.4px;top:896.68px;font-size:31.8px;-webkit-text-stroke:0.55px #111">R</div>
<div class="bx" style="left:35.0px;top:1461.00px;width:987.4px;height:1.20px;background:#444;"></div>
<div class="b" style="left:39.2px;top:1467.06px;font-size:14.1px;">DOC 080328</div>
<div class="b" style="left:991.3px;top:1467.06px;font-size:14.1px;">1 / 2</div>
</body></html>
